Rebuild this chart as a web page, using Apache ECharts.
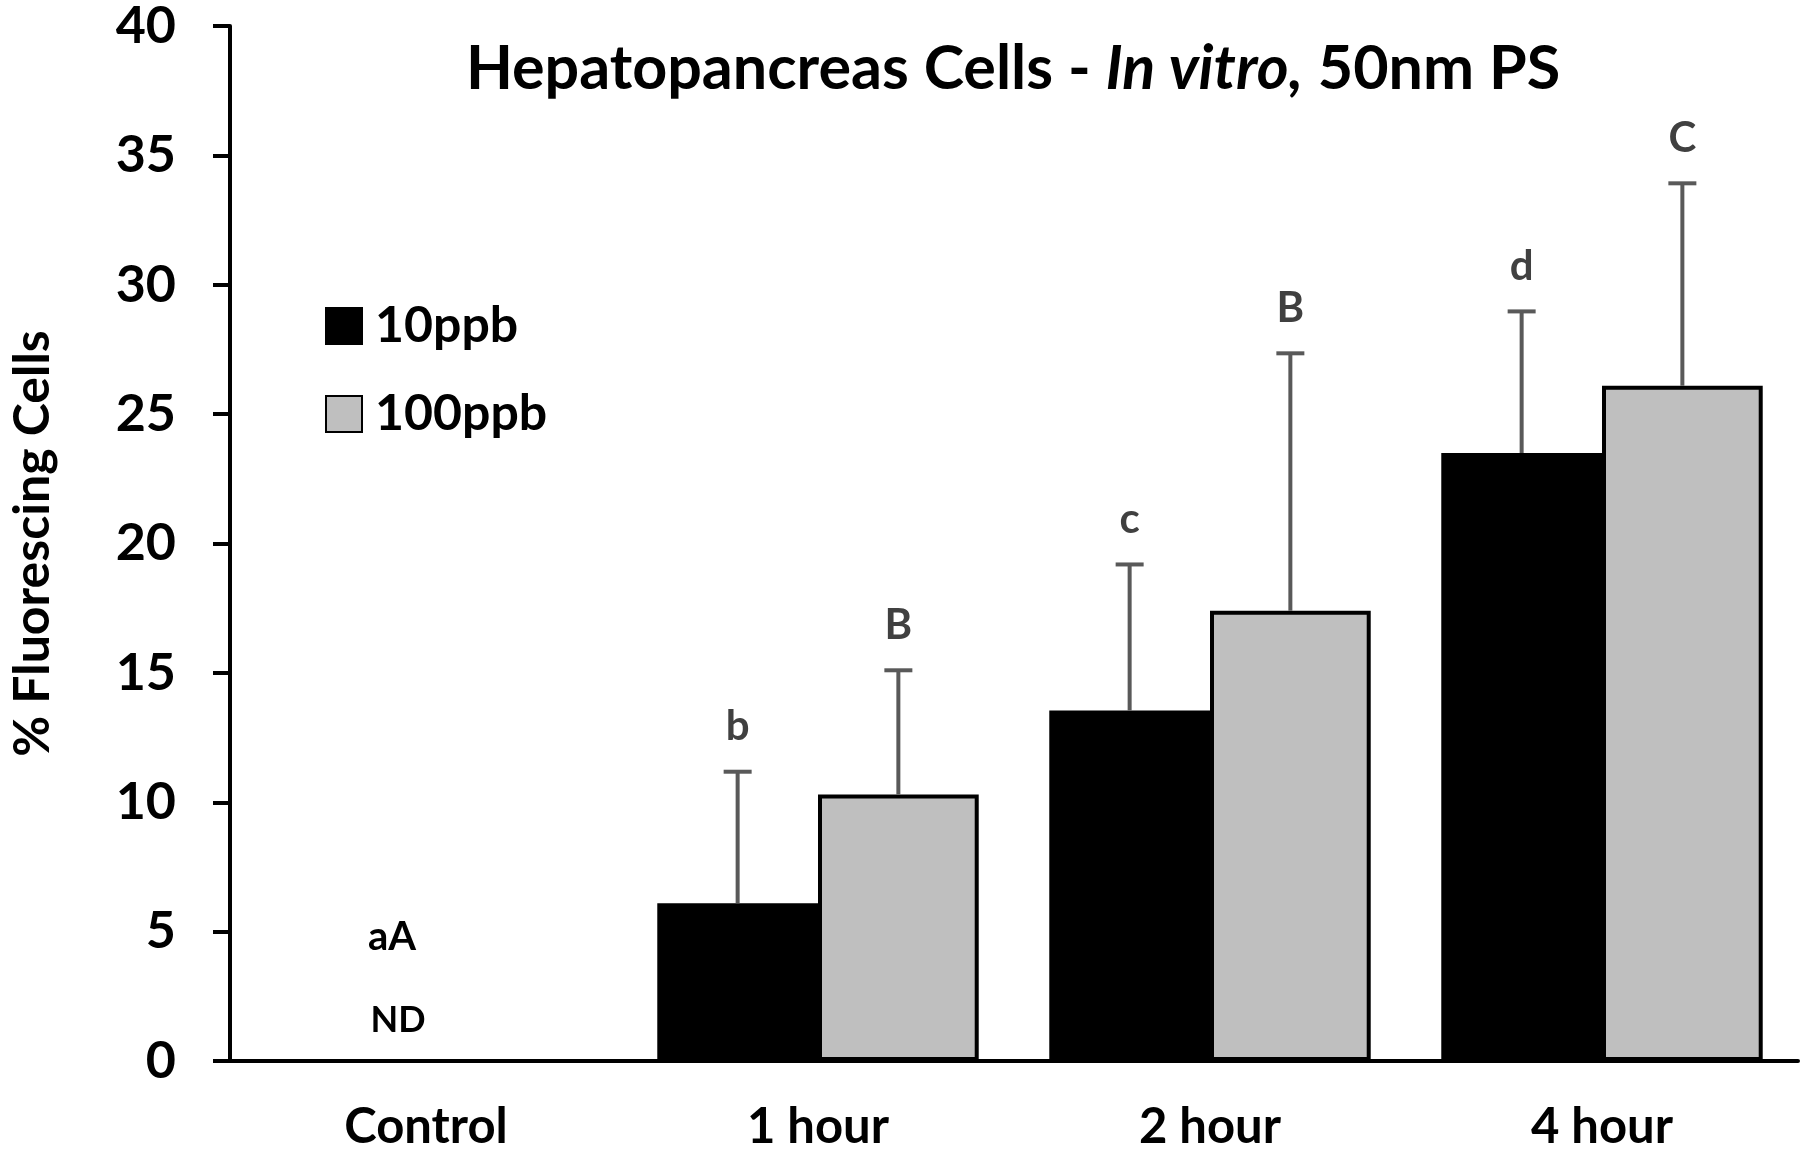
<!DOCTYPE html>
<html>
<head>
<meta charset="utf-8">
<script src="https://cdn.jsdelivr.net/npm/echarts@6/dist/echarts.min.js"></script>
<style>
  html, body { margin: 0; padding: 0; background: #fff; }
  #chart { width: 1804px; height: 1153px; }
</style>
</head>
<body>
<div id="chart"></div>
<script>
// 数据：均值 + 单侧标准差（只向上画）
const CATEGORIES = ["Control", "1 hour", "2 hour", "4 hour"];
const MEAN_10 = [0, 6.1, 13.55, 23.5];
const MEAN_100 = [0, 10.3, 17.4, 26.1];
const ERR_10 = [0, 5.08, 5.64, 5.47];
const ERR_100 = [0, 4.8, 9.95, 7.82];
const SIG_10 = ["", "b", "c", "d"];
const SIG_100 = ["", "B", "B", "C"];
const CONTROL_NOTE = ["aA", "ND"];

const FONT = "Lato";
const CAT_GAP = 0.18; // barCategoryGap

const chart = echarts.init(document.getElementById("chart"));

// 误差线 + 显著性字母；side = -1 左柱(10ppb)，+1 右柱(100ppb)
function errSeries(name, mean, err, sig, side) {
  return {
    name: name + "-err",
    type: "custom",
    z: 5,
    silent: true,
    data: mean.map((m, i) => [i, m, err[i]]),
    renderItem(params, api) {
      const i = api.value(0);
      const m = api.value(1);
      const e = api.value(2);
      const letter = sig[i];
      const catW = api.size([1, 0])[0];
      const off = (catW * (1 - CAT_GAP)) / 4;
      const base = api.coord([i, m]);
      const top = api.coord([i, m + e]);
      const x = base[0] + side * off;
      const children = [];
      if (e > 0) {
        children.push(
          { type: "line", shape: { x1: x, y1: base[1], x2: x, y2: top[1] }, style: { stroke: "#595959", lineWidth: 4 } },
          { type: "line", shape: { x1: x - 14, y1: top[1], x2: x + 14, y2: top[1] }, style: { stroke: "#595959", lineWidth: 4 } }
        );
      }
      if (letter) {
        children.push({
          type: "text",
          x: x,
          y: top[1] - 45,
          style: { text: letter, fill: "#404040", font: "bold 42px " + FONT, align: "center", verticalAlign: "middle" },
        });
      }
      return { type: "group", children };
    },
  };
}

// Control 组的 aA / ND 注释
const controlSeries = {
  name: "control-note",
  type: "custom",
  z: 5,
  silent: true,
  data: [[0, 0]],
  renderItem(params, api) {
    const p = api.coord([0, 0]);
    return {
      type: "group",
      children: [
        { type: "text", x: p[0] - 34, y: p[1] - 124, style: { text: CONTROL_NOTE[0], fill: "#000", font: "bold 40px " + FONT, align: "center", verticalAlign: "middle" } },
        { type: "text", x: p[0] - 28, y: p[1] - 41, style: { text: CONTROL_NOTE[1], fill: "#000", font: "bold 36px " + FONT, align: "center", verticalAlign: "middle" } },
      ],
    };
  },
};

chart.setOption({
  animation: false,
  backgroundColor: "#fff",
  textStyle: { fontFamily: FONT },
  title: {
    left: 1008,
    textAlign: "center",
    top: 34,
    text: "{b|Hepatopancreas Cells - }{i|In vitro,}{b| 50nm PS}",
    textStyle: {
      rich: {
        b: { fontFamily: FONT, fontWeight: "bold", fontSize: 61, color: "#000" },
        i: { fontFamily: FONT, fontWeight: "bold", fontStyle: "italic", fontSize: 61, color: "#000" },
      },
    },
  },
  legend: {
    orient: "vertical",
    left: 320,
    top: 296,
    icon: "rect",
    itemWidth: 36,
    itemHeight: 36,
    itemGap: 38,
    selectedMode: false,
    data: ["10ppb", "100ppb"],
    textStyle: { fontFamily: FONT, fontWeight: "bold", fontSize: 50, color: "#000", padding: [0, 0, 0, 8] },
  },
  grid: { left: 219, right: 6, top: 25, bottom: 92 },
  xAxis: {
    type: "category",
    data: CATEGORIES,
    axisLine: { lineStyle: { color: "#000", width: 4 } },
    axisTick: { show: false },
    axisLabel: { color: "#000", fontFamily: FONT, fontWeight: "bold", fontSize: 49, margin: 42 },
  },
  yAxis: {
    type: "value",
    min: 0,
    max: 40,
    interval: 5,
    name: "% Fluorescing Cells",
    nameLocation: "middle",
    nameGap: 172,
    nameTextStyle: { color: "#000", fontFamily: FONT, fontWeight: "bold", fontSize: 50 },
    splitLine: { show: false },
    axisLine: { show: true, lineStyle: { color: "#000", width: 4 } },
    axisTick: { show: true, inside: false, length: 17, lineStyle: { color: "#000", width: 4 } },
    axisLabel: { color: "#000", fontFamily: FONT, fontWeight: "bold", fontSize: 52, margin: 54 },
  },
  series: [
    {
      name: "10ppb",
      type: "bar",
      data: MEAN_10,
      barGap: "0%",
      barCategoryGap: CAT_GAP * 100 + "%",
      itemStyle: { color: "#000", borderColor: "#000", borderWidth: 3 },
    },
    {
      name: "100ppb",
      type: "bar",
      data: MEAN_100,
      barGap: "0%",
      barCategoryGap: CAT_GAP * 100 + "%",
      itemStyle: { color: "#bfbfbf", borderColor: "#000", borderWidth: 4 },
    },
    errSeries("10ppb", MEAN_10, ERR_10, SIG_10, -1),
    errSeries("100ppb", MEAN_100, ERR_100, SIG_100, 1),
    controlSeries,
  ],
});
</script>
</body>
</html>
